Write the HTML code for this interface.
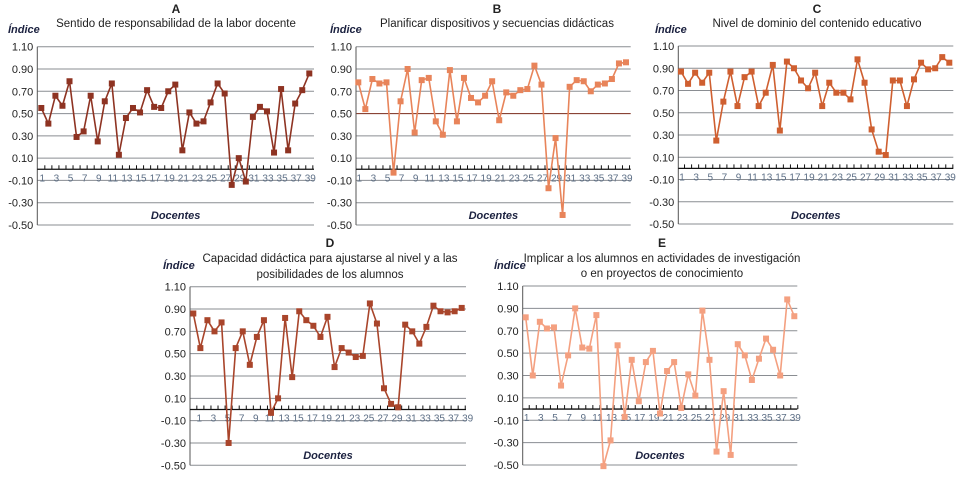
<!DOCTYPE html>
<html><head><meta charset="utf-8"><style>
body{margin:0;background:#fff;width:962px;height:477px;overflow:hidden;font-family:"Liberation Sans",sans-serif}
svg text{font-family:"Liberation Sans",sans-serif}
</style></head><body>
<svg id="c" width="962" height="477" viewBox="0 0 962 477"></svg>
<script>
const categories = Array.from({length:39},(_, i)=>i+1);
const yTicks = [1.10,0.90,0.70,0.50,0.30,0.10,-0.10,-0.30,-0.50];
const seriesA = [0.55,0.41,0.66,0.57,0.79,0.29,0.34,0.66,0.25,0.61,0.77,0.13,0.46,0.55,0.51,0.71,0.56,0.55,0.70,0.76,0.17,0.51,0.41,0.43,0.60,0.77,0.68,-0.14,0.10,-0.11,0.47,0.56,0.52,0.15,0.72,0.17,0.59,0.71,0.86];
const seriesB = [0.78,0.54,0.81,0.77,0.78,-0.03,0.61,0.90,0.33,0.80,0.82,0.43,0.31,0.89,0.43,0.82,0.64,0.60,0.66,0.79,0.44,0.69,0.66,0.71,0.72,0.93,0.76,-0.17,0.28,-0.41,0.74,0.80,0.79,0.70,0.76,0.77,0.81,0.95,0.96];
const seriesC = [0.87,0.76,0.86,0.77,0.86,0.25,0.60,0.87,0.56,0.82,0.87,0.56,0.68,0.93,0.34,0.96,0.90,0.79,0.72,0.86,0.56,0.77,0.68,0.68,0.62,0.98,0.77,0.35,0.15,0.12,0.79,0.79,0.56,0.80,0.95,0.89,0.90,1.00,0.95];
const seriesD = [0.86,0.55,0.80,0.70,0.78,-0.30,0.55,0.70,0.40,0.65,0.80,-0.03,0.10,0.82,0.29,0.88,0.80,0.75,0.65,0.83,0.38,0.55,0.51,0.47,0.48,0.95,0.77,0.19,0.05,0.02,0.76,0.70,0.59,0.74,0.93,0.88,0.87,0.88,0.91];
const seriesE = [0.82,0.30,0.78,0.72,0.73,0.21,0.48,0.90,0.55,0.54,0.84,-0.51,-0.28,0.57,-0.07,0.44,0.07,0.42,0.52,-0.04,0.34,0.42,0.01,0.31,0.12,0.88,0.44,-0.38,0.16,-0.41,0.58,0.48,0.26,0.45,0.63,0.53,0.30,0.98,0.83];

const NS='http://www.w3.org/2000/svg';
const svg=document.getElementById('c');
function mk(tag,attrs,parent,txt){const e=document.createElementNS(NS,tag);for(const k in attrs)e.setAttribute(k,attrs[k]);if(txt!==undefined)e.textContent=txt;(parent||svg).appendChild(e);return e;}

const panels=[
 {id:'a',data:seriesA,color:'#8e3322',left:37.3,right:314,top:46.7,bottom:225,x1:41.3,x39:309.3,letter:'A',lx:176,ly:13,titles:['Sentido de responsabilidad de la labor docente'],ty:[27],ix:8,iy:33,dy:219,lblOff:1,mid:false},
 {id:'b',data:seriesB,color:'#e8845a',left:356,right:630.7,top:46.7,bottom:225,x1:358.3,x39:626,letter:'B',lx:497,ly:13,titles:['Planificar dispositivos y secuencias didácticas'],ty:[27],ix:330,iy:33,dy:219,lblOff:1,mid:true},
 {id:'c',data:seriesC,color:'#cf5f30',left:678.3,right:953.3,top:46,bottom:224,x1:681,x39:949.3,letter:'C',lx:817,ly:13,titles:['Nivel de dominio del contenido educativo'],ty:[27],ix:655,iy:33,dy:219,lblOff:1,mid:false},
 {id:'d',data:seriesD,color:'#a9452b',left:190,right:466,top:286.7,bottom:465.3,x1:193.3,x39:461.7,letter:'D',lx:330,ly:247,titles:['Capacidad didáctica para ajustarse al nivel y a las','posibilidades de los alumnos'],ty:[262,278],ix:163,iy:269,dy:459,lblOff:6,mid:false},
 {id:'e',data:seriesE,color:'#f4a080',left:522.7,right:797.3,top:286,bottom:465,x1:525.7,x39:794.3,letter:'E',lx:662,ly:247,titles:['Implicar a los alumnos en actividades de investigación','o en proyectos de conocimiento'],ty:[262,277],ix:494,iy:269,dy:459,lblOff:1,mid:false}
];

panels.forEach(p=>{
  const g=mk('g',{});
  
  
  const yScale=v=>p.top+(1.10-v)*(p.bottom-p.top)/1.6;
  const step=(p.x39-p.x1)/(categories.length-1);
  const xScale=i=>p.x1+(i-1)*step;
  const lt=mk('text',{x:p.lx,y:p.ly,'text-anchor':'middle','font-size':12,'font-weight':'bold',fill:'#222'},g,p.letter);
  
  
  p.titles.forEach((t,k)=>{
    const te=mk('text',{x:p.lx,y:p.ty[k],'text-anchor':'middle','font-size':11.5,fill:'#222'},g,t);
    
    
  });
  const ie=mk('text',{x:p.ix,y:p.iy,'font-size':11,'font-style':'italic','font-weight':'bold',fill:'#1c2240'},g,'Índice');
  
  
  yTicks.forEach(v=>{
    const y=yScale(v);
    const isMid=p.mid&&Math.abs(v-0.5)<1e-6;
    const gl=mk('line',{x1:p.left,x2:p.right,y1:y,y2:y,stroke:isMid?'#7a2a1a':'#8a8d92','stroke-width':1},g);
    
    
    const tl=mk('text',{x:p.left-4,y:y+4,'text-anchor':'end','font-size':11,fill:'#222'},g,v.toFixed(2));
    
    
  });
  const yax=mk('line',{x1:p.left,x2:p.left,y1:p.top,y2:p.bottom,stroke:'#555','stroke-width':1},g);
  
  
  const z=yScale(0);
  const xax=mk('line',{x1:p.left,x2:p.right,y1:z,y2:z,stroke:'#111','stroke-width':1.3},g);
  
  
  categories.forEach(c=>{
    const tx=xScale(c)+step*0.5;
    if(tx<p.right+1){
      const tk=mk('line',{x1:tx,x2:tx,y1:z-4,y2:z,stroke:'#111','stroke-width':1},g);
      
      
    }
    if(c%2===1){
      const xl=mk('text',{x:xScale(c)+p.lblOff,y:z+12,'text-anchor':'middle','font-size':10,fill:'#5d6f86'},g,String(c));
      
      
    }
  });
  const de=mk('text',{x:(p.left+p.right)/2,y:p.dy,'text-anchor':'middle','font-size':11,'font-style':'italic','font-weight':'bold',fill:'#1c2240'},g,'Docentes');
  
  
  const pts=p.data.map((v,i)=>xScale(categories[i])+','+yScale(v)).join(' ');
  const pl=mk('polyline',{points:pts,fill:'none',stroke:p.color,'stroke-width':1.6},g);
  
  
  p.data.forEach((v,i)=>{
    const m=mk('rect',{x:xScale(categories[i])-3,y:yScale(v)-3,width:6,height:6,fill:p.color},g);
    
    
  });
});
</script>
</body></html>
